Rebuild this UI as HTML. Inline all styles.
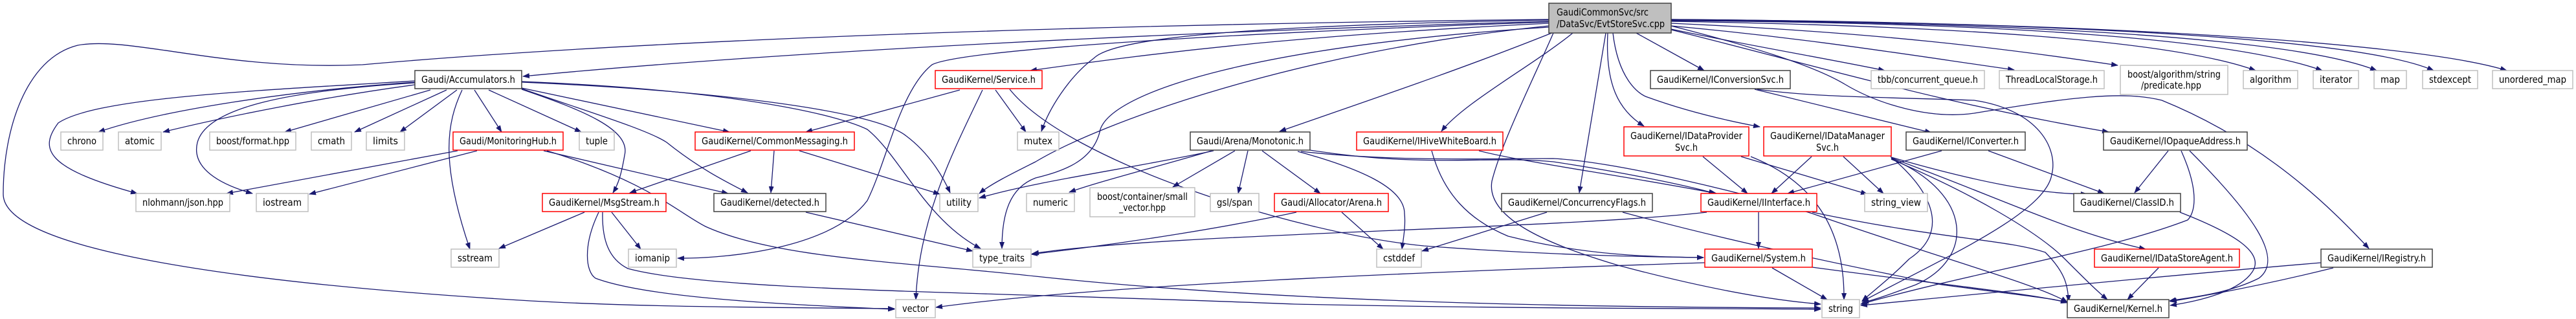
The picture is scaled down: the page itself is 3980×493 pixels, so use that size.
<!DOCTYPE html>
<html><head><meta charset="utf-8"><style>
html,body{margin:0;padding:0;background:#fff;}
svg{display:block;}
text{font-family:"DejaVu Sans","Liberation Sans",sans-serif;font-size:15px;fill:#000;}
.g{fill:#fff;stroke:#bfbfbf;stroke-width:1.5}
.r{fill:#fff;stroke:#ff0000;stroke-width:1.5}
.b{fill:#fff;stroke:#404040;stroke-width:1.5}
.root{fill:#bfbfbf;stroke:#404040;stroke-width:1.5}
path.e{fill:none;stroke:#191970;stroke-width:1.3;marker-end:url(#ah)}
</style></head><body>
<svg width="3980" height="493" viewBox="0 0 3980 493" xmlns="http://www.w3.org/2000/svg">
<defs><marker id="ah" markerUnits="userSpaceOnUse" markerWidth="11" markerHeight="8" refX="10" refY="4" orient="auto"><path d="M0,0 L11,4 L0,8 z" fill="#191970"/></marker></defs>
<g>
<!-- root edges -->
<path class="e" d="M2393,33 C1800,50 1200,80 808,118"/>
<path class="e" d="M2393,30 C1500,40 900,70 560,100 C350,110 200,55 120,70 C40,90 5,200 5,300 C5,390 400,440 820,465 C1000,475 1200,475 1382,477"/>
<path class="e" d="M2393,36 C2000,55 1800,80 1592,109"/>
<path class="e" d="M2393,31 C1900,40 1720,60 1690,90 C1650,120 1620,170 1609,203"/>
<path class="e" d="M2393,34 C1800,55 1480,80 1440,100 C1390,140 1370,250 1340,310 C1280,390 1100,400 1047,399"/>
<path class="e" d="M2393,40 C2000,80 1700,190 1600,250 C1560,270 1530,285 1513,299"/>
<path class="e" d="M2393,42 C1950,70 1720,140 1700,200 C1690,250 1640,265 1600,275 C1560,290 1548,330 1548,384"/>
<path class="e" d="M2400,50 C2250,110 2100,160 1977,203"/>
<path class="e" d="M2430,51 C2370,100 2260,160 2227,203"/>
<path class="e" d="M2481,51 L2440,298"/>
<path class="e" d="M2528,51 L2633,109"/>
<path class="e" d="M2484,51 C2480,130 2500,170 2540,195"/>
<path class="e" d="M2492,51 C2500,120 2530,145 2545,150 C2600,170 2660,185 2719,196"/>
<path class="e" d="M2582,45 C2700,70 2820,90 2912,109"/>
<path class="e" d="M2582,40 C2800,60 2950,85 3112,108"/>
<path class="e" d="M2582,36 C2900,50 3100,75 3272,101"/>
<path class="e" d="M2582,33 C3000,40 3350,60 3485,109"/>
<path class="e" d="M2582,32 C3100,35 3450,60 3588,109"/>
<path class="e" d="M2582,31 C3150,35 3550,60 3672,109"/>
<path class="e" d="M2582,30 C3200,35 3650,60 3760,109"/>
<path class="e" d="M2582,30 C3300,35 3750,70 3873,109"/>
<path class="e" d="M2582,46 C2800,100 3000,160 3258,204"/>
<path class="e" d="M2582,40 C2700,70 2800,100 2850,130 C2900,160 2980,185 3050,175 C3200,150 3280,140 3340,155 C3500,220 3600,320 3660,384"/>
<path class="e" d="M2400,51 C2370,120 2320,220 2305,280 C2295,340 2400,380 2500,410 C2650,450 2750,465 2813,470"/>
<!-- Accumulators -->
<path class="e" d="M641,125 C400,140 150,150 90,190 C60,230 70,260 212,299"/>
<path class="e" d="M641,127 C450,140 250,170 152,204"/>
<path class="e" d="M641,131 C500,150 350,180 252,204"/>
<path class="e" d="M641,128 C450,140 320,165 305,220 C295,260 340,285 390,299"/>
<path class="e" d="M665,139 L440,204"/>
<path class="e" d="M690,139 L548,204"/>
<path class="e" d="M706,139 L618,204"/>
<path class="e" d="M733,139 L775,204"/>
<path class="e" d="M714,139 C690,190 680,250 726,385"/>
<path class="e" d="M755,139 L898,204"/>
<path class="e" d="M806,136 L1127,204"/>
<path class="e" d="M806,138 C900,170 975,200 965,240 C960,270 955,285 947,298"/>
<path class="e" d="M806,137 C900,170 1000,200 1030,220 C1080,260 1120,280 1155,298"/>
<path class="e" d="M806,127 C1100,140 1350,170 1400,210 C1440,240 1460,280 1468,298"/>
<path class="e" d="M806,126 C1150,140 1300,180 1340,200 C1390,240 1430,340 1515,384"/>
<!-- MonitoringHub -->
<path class="e" d="M707,233 L350,299"/>
<path class="e" d="M737,233 L478,300"/>
<path class="e" d="M840,233 L1125,299"/>
<path class="e" d="M845,233 C1000,280 1050,330 1090,350 C1200,400 1400,405 1600,427 C2000,470 2500,475 2813,476"/>
<!-- CommonMessaging -->
<path class="e" d="M1160,233 L973,298"/>
<path class="e" d="M1196,233 L1191,298"/>
<path class="e" d="M1235,233 L1452,300"/>
<!-- Service -->
<path class="e" d="M1483,139 L1245,204"/>
<path class="e" d="M1518,139 C1480,220 1420,330 1415,463"/>
<path class="e" d="M1538,139 L1585,204"/>
<path class="e" d="M1560,138 C1650,250 2000,360 2200,380 C2400,395 2550,397 2632,398"/>
<!-- MsgStream -->
<path class="e" d="M903,328 L771,384"/>
<path class="e" d="M945,328 L990,385"/>
<path class="e" d="M925,328 C900,380 905,420 920,430 C1000,460 1200,470 1382,478"/>
<path class="e" d="M931,328 C930,370 940,400 970,415 C1100,450 1500,450 2000,470 C2400,478 2600,476 2813,478"/>
<path class="e" d="M1245,328 L1503,388"/>
<!-- Monotonic -->
<path class="e" d="M1875,233 C1750,260 1600,280 1513,306"/>
<path class="e" d="M1872,233 C1780,260 1700,280 1652,297"/>
<path class="e" d="M1908,233 L1812,289"/>
<path class="e" d="M1928,233 L1913,299"/>
<path class="e" d="M1950,233 L2040,299"/>
<path class="e" d="M2005,234 C2100,260 2170,290 2170,330 C2172,350 2168,370 2166,385"/>
<path class="e" d="M2024,232 C2200,260 2300,240 2400,250 C2500,265 2600,285 2650,299"/>
<path class="e" d="M2010,234 C2150,250 2300,245 2400,245 C2500,250 2700,300 2800,330 C3000,400 3150,440 3194,467"/>
<path class="e" d="M2003,328 C1900,350 1750,375 1593,393"/>
<path class="e" d="M2073,328 L2137,385"/>
<!-- HiveWB -->
<path class="e" d="M2285,233 C2350,250 2500,270 2652,299"/>
<path class="e" d="M2212,233 C2230,300 2270,340 2330,365 C2450,395 2550,397 2632,398"/>
<!-- ConcurrencyFlags -->
<path class="e" d="M2390,328 L2197,388"/>
<path class="e" d="M2507,328 C2700,380 2900,420 3000,440 C3150,460 3180,462 3194,468"/>
<!-- IConversionSvc -->
<path class="e" d="M2711,138 L2984,205"/>
<path class="e" d="M2715,138 C2800,150 2900,150 3050,155 C3150,170 3180,230 3170,270 C3160,330 3000,400 2877,466"/>
<!-- IDataProviderSvc -->
<path class="e" d="M2631,242 L2700,299"/>
<path class="e" d="M2690,242 L2885,300"/>
<path class="e" d="M2705,242 C2800,280 2850,350 2849,463"/>
<!-- IDataManagerSvc -->
<path class="e" d="M2799,242 L2737,299"/>
<path class="e" d="M2848,242 L2910,299"/>
<path class="e" d="M2921,242 C2990,300 3010,360 2950,400 C2920,430 2900,445 2877,465"/>
<path class="e" d="M2922,245 C3050,300 3050,400 2960,440 C2920,455 2900,462 2877,468"/>
<path class="e" d="M2922,243 C3050,280 3150,300 3225,300"/>
<path class="e" d="M2922,244 C3100,310 3200,360 3315,385"/>
<path class="e" d="M2922,246 C3050,300 3150,360 3190,400 C3220,430 3240,450 3256,463"/>
<!-- IConverter -->
<path class="e" d="M3000,233 L2762,299"/>
<path class="e" d="M3072,233 L3251,299"/>
<!-- IInterface -->
<path class="e" d="M2717,328 L2717,384"/>
<path class="e" d="M2800,328 C3000,370 3100,370 3160,390 C3190,420 3195,440 3196,466"/>
<path class="e" d="M2637,328 C2400,355 1800,360 1595,392"/>
<!-- System -->
<path class="e" d="M2738,414 L2823,463"/>
<path class="e" d="M2634,406 C2200,420 1700,440 1446,475"/>
<path class="e" d="M2800,413 C3000,440 3150,455 3194,468"/>
<!-- IOpaqueAddress -->
<path class="e" d="M3350,233 L3298,298"/>
<path class="e" d="M3370,233 C3400,300 3390,330 3380,340 C3250,390 3050,420 2875,470"/>
<path class="e" d="M3383,233 C3480,330 3530,400 3490,430 C3440,455 3380,460 3352,465"/>
<path class="e" d="M3368,328 C3450,360 3500,390 3480,420 C3460,450 3400,465 3353,472"/>
<path class="e" d="M3335,414 L3287,463"/>
<path class="e" d="M3586,406 C3300,430 3000,460 2875,472"/>
<path class="e" d="M3605,414 C3500,440 3420,455 3353,466"/>
</g>
<g>
<rect class="root" x="2393" y="5" width="189" height="46"/>
<text x="2405" y="24" textLength="142" lengthAdjust="spacingAndGlyphs">GaudiCommonSvc/src</text>
<text x="2405" y="42" textLength="167" lengthAdjust="spacingAndGlyphs">/DataSvc/EvtStoreSvc.cpp</text>

<rect class="b" x="641" y="109" width="165" height="28"/><text x="651" y="128" textLength="145" lengthAdjust="spacingAndGlyphs">Gaudi/Accumulators.h</text>
<rect class="r" x="1445" y="109" width="165" height="28"/><text x="1455" y="128" textLength="145" lengthAdjust="spacingAndGlyphs">GaudiKernel/Service.h</text>
<rect class="b" x="2550" y="109" width="216" height="28"/><text x="2560" y="128" textLength="196" lengthAdjust="spacingAndGlyphs">GaudiKernel/IConversionSvc.h</text>
<rect class="g" x="2891" y="109" width="175" height="28"/><text x="2901" y="128" textLength="155" lengthAdjust="spacingAndGlyphs">tbb/concurrent_queue.h</text>
<rect class="g" x="3089" y="109" width="162" height="28"/><text x="3099" y="128" textLength="142" lengthAdjust="spacingAndGlyphs">ThreadLocalStorage.h</text>
<rect class="g" x="3276" y="101" width="166" height="45"/><text x="3287" y="120" textLength="144" lengthAdjust="spacingAndGlyphs">boost/algorithm/string</text><text x="3308" y="137" textLength="93" lengthAdjust="spacingAndGlyphs">/predicate.hpp</text>
<rect class="g" x="3466" y="109" width="84" height="28"/><text x="3476" y="128" textLength="64" lengthAdjust="spacingAndGlyphs">algorithm</text>
<rect class="g" x="3574" y="109" width="70" height="28"/><text x="3584" y="128" textLength="50" lengthAdjust="spacingAndGlyphs">iterator</text>
<rect class="g" x="3668" y="109" width="50" height="28"/><text x="3678" y="128" textLength="30" lengthAdjust="spacingAndGlyphs">map</text>
<rect class="g" x="3743" y="109" width="85" height="28"/><text x="3753" y="128" textLength="65" lengthAdjust="spacingAndGlyphs">stdexcept</text>
<rect class="g" x="3851" y="109" width="124" height="28"/><text x="3861" y="128" textLength="104" lengthAdjust="spacingAndGlyphs">unordered_map</text>

<rect class="g" x="94" y="204" width="65" height="28"/><text x="104" y="223" textLength="45" lengthAdjust="spacingAndGlyphs">chrono</text>
<rect class="g" x="183" y="204" width="66" height="28"/><text x="193" y="223" textLength="46" lengthAdjust="spacingAndGlyphs">atomic</text>
<rect class="g" x="324" y="204" width="133" height="28"/><text x="334" y="223" textLength="113" lengthAdjust="spacingAndGlyphs">boost/format.hpp</text>
<rect class="g" x="481" y="204" width="62" height="28"/><text x="491" y="223" textLength="42" lengthAdjust="spacingAndGlyphs">cmath</text>
<rect class="g" x="566" y="204" width="59" height="28"/><text x="576" y="223" textLength="39" lengthAdjust="spacingAndGlyphs">limits</text>
<rect class="r" x="700" y="204" width="170" height="28"/><text x="710" y="223" textLength="150" lengthAdjust="spacingAndGlyphs">Gaudi/MonitoringHub.h</text>
<rect class="g" x="895" y="204" width="54" height="28"/><text x="905" y="223" textLength="34" lengthAdjust="spacingAndGlyphs">tuple</text>
<rect class="r" x="1074" y="204" width="246" height="28"/><text x="1084" y="223" textLength="226" lengthAdjust="spacingAndGlyphs">GaudiKernel/CommonMessaging.h</text>
<rect class="g" x="1572" y="204" width="64" height="28"/><text x="1582" y="223" textLength="44" lengthAdjust="spacingAndGlyphs">mutex</text>
<rect class="b" x="1839" y="204" width="185" height="28"/><text x="1849" y="223" textLength="165" lengthAdjust="spacingAndGlyphs">Gaudi/Arena/Monotonic.h</text>
<rect class="r" x="2096" y="204" width="226" height="28"/><text x="2106" y="223" textLength="206" lengthAdjust="spacingAndGlyphs">GaudiKernel/IHiveWhiteBoard.h</text>
<rect class="r" x="2509" y="196" width="193" height="45"/><text x="2519" y="215" textLength="173" lengthAdjust="spacingAndGlyphs">GaudiKernel/IDataProvider</text><text x="2588" y="233" textLength="35" lengthAdjust="spacingAndGlyphs">Svc.h</text>
<rect class="r" x="2725" y="196" width="197" height="45"/><text x="2735" y="215" textLength="177" lengthAdjust="spacingAndGlyphs">GaudiKernel/IDataManager</text><text x="2806" y="233" textLength="35" lengthAdjust="spacingAndGlyphs">Svc.h</text>
<rect class="b" x="2945" y="204" width="184" height="28"/><text x="2955" y="223" textLength="164" lengthAdjust="spacingAndGlyphs">GaudiKernel/IConverter.h</text>
<rect class="b" x="3250" y="204" width="222" height="28"/><text x="3260" y="223" textLength="202" lengthAdjust="spacingAndGlyphs">GaudiKernel/IOpaqueAddress.h</text>

<rect class="g" x="210" y="299" width="145" height="28"/><text x="220" y="318" textLength="125" lengthAdjust="spacingAndGlyphs">nlohmann/json.hpp</text>
<rect class="g" x="396" y="299" width="80" height="28"/><text x="406" y="318" textLength="60" lengthAdjust="spacingAndGlyphs">iostream</text>
<rect class="r" x="838" y="299" width="191" height="28"/><text x="848" y="318" textLength="171" lengthAdjust="spacingAndGlyphs">GaudiKernel/MsgStream.h</text>
<rect class="b" x="1103" y="299" width="173" height="28"/><text x="1113" y="318" textLength="153" lengthAdjust="spacingAndGlyphs">GaudiKernel/detected.h</text>
<rect class="g" x="1452" y="299" width="59" height="28"/><text x="1462" y="318" textLength="39" lengthAdjust="spacingAndGlyphs">utility</text>
<rect class="g" x="1586" y="299" width="74" height="28"/><text x="1596" y="318" textLength="54" lengthAdjust="spacingAndGlyphs">numeric</text>
<rect class="g" x="1684" y="290" width="162" height="45"/><text x="1695" y="309" textLength="140" lengthAdjust="spacingAndGlyphs">boost/container/small</text><text x="1729" y="326" textLength="72" lengthAdjust="spacingAndGlyphs">_vector.hpp</text>
<rect class="g" x="1870" y="299" width="75" height="28"/><text x="1880" y="318" textLength="55" lengthAdjust="spacingAndGlyphs">gsl/span</text>
<rect class="r" x="1969" y="299" width="176" height="28"/><text x="1979" y="318" textLength="156" lengthAdjust="spacingAndGlyphs">Gaudi/Allocator/Arena.h</text>
<rect class="b" x="2320" y="299" width="233" height="28"/><text x="2330" y="318" textLength="213" lengthAdjust="spacingAndGlyphs">GaudiKernel/ConcurrencyFlags.h</text>
<rect class="r" x="2628" y="299" width="179" height="28"/><text x="2638" y="318" textLength="159" lengthAdjust="spacingAndGlyphs">GaudiKernel/IInterface.h</text>
<rect class="g" x="2881" y="299" width="97" height="28"/><text x="2891" y="318" textLength="77" lengthAdjust="spacingAndGlyphs">string_view</text>
<rect class="b" x="3204" y="299" width="165" height="28"/><text x="3214" y="318" textLength="145" lengthAdjust="spacingAndGlyphs">GaudiKernel/ClassID.h</text>

<rect class="g" x="697" y="385" width="74" height="28"/><text x="707" y="404" textLength="54" lengthAdjust="spacingAndGlyphs">sstream</text>
<rect class="g" x="971" y="385" width="74" height="28"/><text x="981" y="404" textLength="54" lengthAdjust="spacingAndGlyphs">iomanip</text>
<rect class="g" x="1503" y="385" width="90" height="28"/><text x="1513" y="404" textLength="70" lengthAdjust="spacingAndGlyphs">type_traits</text>
<rect class="g" x="2127" y="385" width="69" height="28"/><text x="2137" y="404" textLength="49" lengthAdjust="spacingAndGlyphs">cstddef</text>
<rect class="r" x="2634" y="385" width="166" height="28"/><text x="2644" y="404" textLength="146" lengthAdjust="spacingAndGlyphs">GaudiKernel/System.h</text>
<rect class="r" x="3236" y="385" width="224" height="28"/><text x="3246" y="404" textLength="204" lengthAdjust="spacingAndGlyphs">GaudiKernel/IDataStoreAgent.h</text>
<rect class="b" x="3586" y="385" width="172" height="28"/><text x="3596" y="404" textLength="152" lengthAdjust="spacingAndGlyphs">GaudiKernel/IRegistry.h</text>

<rect class="g" x="1384" y="463" width="61" height="28"/><text x="1394" y="482" textLength="41" lengthAdjust="spacingAndGlyphs">vector</text>
<rect class="g" x="2815" y="463" width="58" height="28"/><text x="2825" y="482" textLength="38" lengthAdjust="spacingAndGlyphs">string</text>
<rect class="b" x="3194" y="463" width="157" height="28"/><text x="3204" y="482" textLength="137" lengthAdjust="spacingAndGlyphs">GaudiKernel/Kernel.h</text>
</g>
</svg>
</body></html>
